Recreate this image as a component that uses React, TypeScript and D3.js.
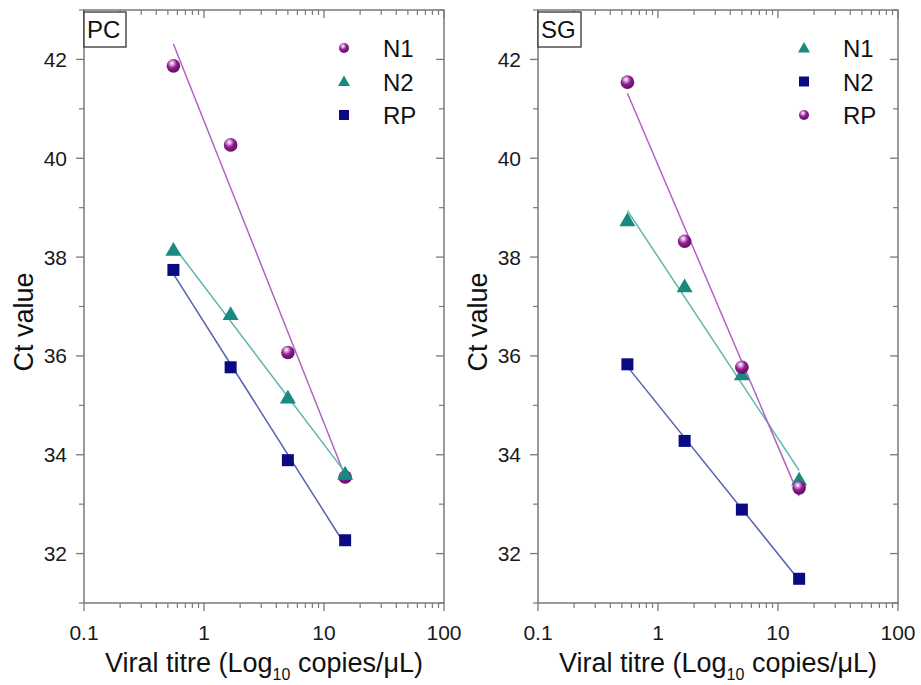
import React from 'react';
import * as d3 from 'd3';

// viral titre (copies/uL), same dilutions in both panels
const titre = [0.556, 1.667, 5, 15];

// PC panel
const pcN1 = [41.87, 40.27, 36.07, 33.55];
const pcN2 = [38.14, 36.84, 35.15, 33.61];
const pcRP = [37.74, 35.77, 33.89, 32.27];

// SG panel
const sgN1 = [38.74, 37.40, 35.62, 33.49];
const sgN2 = [35.83, 34.28, 32.89, 31.49];
const sgRP = [41.54, 38.32, 35.77, 33.33];

const xTicks = [0.1, 1, 10, 100];
const yTicks = [32, 34, 36, 38, 40, 42];

const FONT = "Arial, 'Liberation Sans', sans-serif";

const style = {
  sphere: { line: '#b263c4' },
  triangle: { fill: '#1a8a80', line: '#5cb6aa' },
  square: { fill: '#0a0a82', line: '#5560b2' },
};

type Kind = 'sphere' | 'triangle' | 'square';

const Marker = ({ kind, x, y, small }: { kind: Kind; x: number; y: number; small?: boolean }) => {
  if (kind === 'sphere') {
    const r = small ? 5 : 6.8;
    return <circle cx={x} cy={y} r={r} fill="url(#sphereGrad)" />;
  }
  if (kind === 'triangle') {
    const side = small ? 12 : 16;
    const size = (Math.sqrt(3) / 4) * side * side;
    return (
      <path
        d={d3.symbol(d3.symbolTriangle, size)() || ''}
        transform={`translate(${x},${y + 1})`}
        fill={style.triangle.fill}
      />
    );
  }
  const s = small ? 10 : 12;
  return <rect x={x - s / 2} y={y - s / 2} width={s} height={s} fill={style.square.fill} />;
};

// least squares fit of Ct against log10(titre)
const fit = (xs: number[], ys: number[]) => {
  const lx = xs.map(v => Math.log10(v));
  const mx = d3.mean(lx)!;
  const my = d3.mean(ys)!;
  const sxy = d3.sum(lx, (v, i) => (v - mx) * (ys[i] - my));
  const sxx = d3.sum(lx, v => (v - mx) * (v - mx));
  const slope = sxy / sxx;
  return (v: number) => my + slope * (Math.log10(v) - mx);
};

type Series = { name: string; kind: Kind; values: number[] };

const Panel = ({ left, label, series, legendX }: { left: number; label: string; series: Series[]; legendX: number }) => {
  const top = 10;
  const bottom = 603;
  const width = 360;
  const x = d3.scaleLog().domain([0.1, 100]).range([left, left + width]);
  const y = d3.scaleLinear().domain([31, 43]).range([bottom, top]);
  const axisColor = '#7a7a7a';

  const minorX: number[] = [];
  [0.1, 1, 10].forEach(d => {
    for (let k = 2; k <= 9; k++) minorX.push(d * k);
  });
  const minorY = [31, 33, 35, 37, 39, 41, 43];

  return (
    <g>
      {/* series: fit line then markers */}
      {series.map(s => {
        const f = fit(titre, s.values);
        const ends = [titre[0], titre[titre.length - 1]];
        const pts = ends.map(v => f(v));
        const lineColor = s.kind === 'sphere' ? style.sphere.line : style[s.kind].line;
        return (
          <path
            key={s.name + 'l'}
            d={d3.line<number>().x((_, i) => x(ends[i])).y(d => y(d))(pts) || ''}
            fill="none"
            stroke={lineColor}
            strokeWidth={1.5}
          />
        );
      })}
      {series.map(s => (
        <g key={s.name + 'm'}>
          {s.values.map((v, i) => (
            <Marker key={i} kind={s.kind} x={x(titre[i])} y={y(v)} />
          ))}
        </g>
      ))}

      {/* frame */}
      <rect x={left} y={top} width={width} height={bottom - top} fill="none" stroke={axisColor} strokeWidth={1.5} />

      {/* y ticks */}
      {yTicks.map(t => (
        <g key={'y' + t}>
          <line x1={left - 8} x2={left} y1={y(t)} y2={y(t)} stroke={axisColor} strokeWidth={1.3} />
          <line x1={left + width - 8} x2={left + width} y1={y(t)} y2={y(t)} stroke={axisColor} strokeWidth={1.3} />
          <text x={left - 17} y={y(t) + 7.5} textAnchor="end" fontSize={21} fontFamily={FONT} fill="#1a1a1a">
            {t}
          </text>
        </g>
      ))}
      {minorY.map(t => (
        <g key={'ym' + t}>
          <line x1={left - 5} x2={left} y1={y(t)} y2={y(t)} stroke={axisColor} strokeWidth={1.2} />
          <line x1={left + width - 5} x2={left + width} y1={y(t)} y2={y(t)} stroke={axisColor} strokeWidth={1.2} />
        </g>
      ))}

      {/* x ticks */}
      {xTicks.map(t => (
        <g key={'x' + t}>
          <line x1={x(t)} x2={x(t)} y1={bottom} y2={bottom + 8} stroke={axisColor} strokeWidth={1.3} />
          <line x1={x(t)} x2={x(t)} y1={top} y2={top + 8} stroke={axisColor} strokeWidth={1.3} />
          <text x={x(t)} y={640} textAnchor="middle" fontSize={21} fontFamily={FONT} fill="#1a1a1a">
            {t}
          </text>
        </g>
      ))}
      {minorX.map(t => (
        <g key={'xm' + t}>
          <line x1={x(t)} x2={x(t)} y1={bottom} y2={bottom + 5} stroke={axisColor} strokeWidth={1.2} />
          <line x1={x(t)} x2={x(t)} y1={top} y2={top + 5} stroke={axisColor} strokeWidth={1.2} />
        </g>
      ))}

      {/* panel label */}
      <rect x={left} y={12} width={label === 'PC' ? 42 : 43} height={35} fill="white" stroke="#333" strokeWidth={1.3} />
      <text x={left + 3} y={38} fontSize={24} fontFamily={FONT} fill="#111">
        {label}
      </text>

      {/* legend */}
      {series.map((s, i) => (
        <g key={s.name + 'lg'}>
          <Marker kind={s.kind} x={legendX} y={48 + i * 33.5} small />
          <text x={legendX + 39} y={48 + i * 33.5 + 9} fontSize={24} fontFamily={FONT} fill="#111">
            {s.name}
          </text>
        </g>
      ))}

      {/* axis titles */}
      <text
        transform={`translate(${left - 51},322) rotate(-90)`}
        textAnchor="middle"
        fontSize={27}
        fontFamily={FONT}
        fill="#111"
      >
        Ct value
      </text>
      <text x={left + width / 2} y={672} textAnchor="middle" fontSize={27} fontFamily={FONT} fill="#111">
        Viral titre (Log<tspan fontSize={16} dy={8}>10</tspan>
        <tspan dy={-8}> copies/μL)</tspan>
      </text>
    </g>
  );
};

export default function App() {
  const pcSeries: Series[] = [
    { name: 'N1', kind: 'sphere', values: pcN1 },
    { name: 'N2', kind: 'triangle', values: pcN2 },
    { name: 'RP', kind: 'square', values: pcRP },
  ];
  const sgSeries: Series[] = [
    { name: 'N1', kind: 'triangle', values: sgN1 },
    { name: 'N2', kind: 'square', values: sgN2 },
    { name: 'RP', kind: 'sphere', values: sgRP },
  ];
  return (
    <svg
      width={921}
      height={685}
      style={{ position: 'absolute', left: 0, top: 0, background: 'white' }}
    >
      <defs>
        <radialGradient id="sphereGrad" cx="0.38" cy="0.34" r="0.7" fx="0.4" fy="0.3">
          <stop offset="0" stopColor="#ffffff" />
          <stop offset="0.18" stopColor="#e2a8e4" />
          <stop offset="0.5" stopColor="#8e1e90" />
          <stop offset="1" stopColor="#5e0a60" />
        </radialGradient>
      </defs>
      <Panel left={84} label="PC" series={pcSeries} legendX={344} />
      <Panel left={538} label="SG" series={sgSeries} legendX={804} />
    </svg>
  );
}
